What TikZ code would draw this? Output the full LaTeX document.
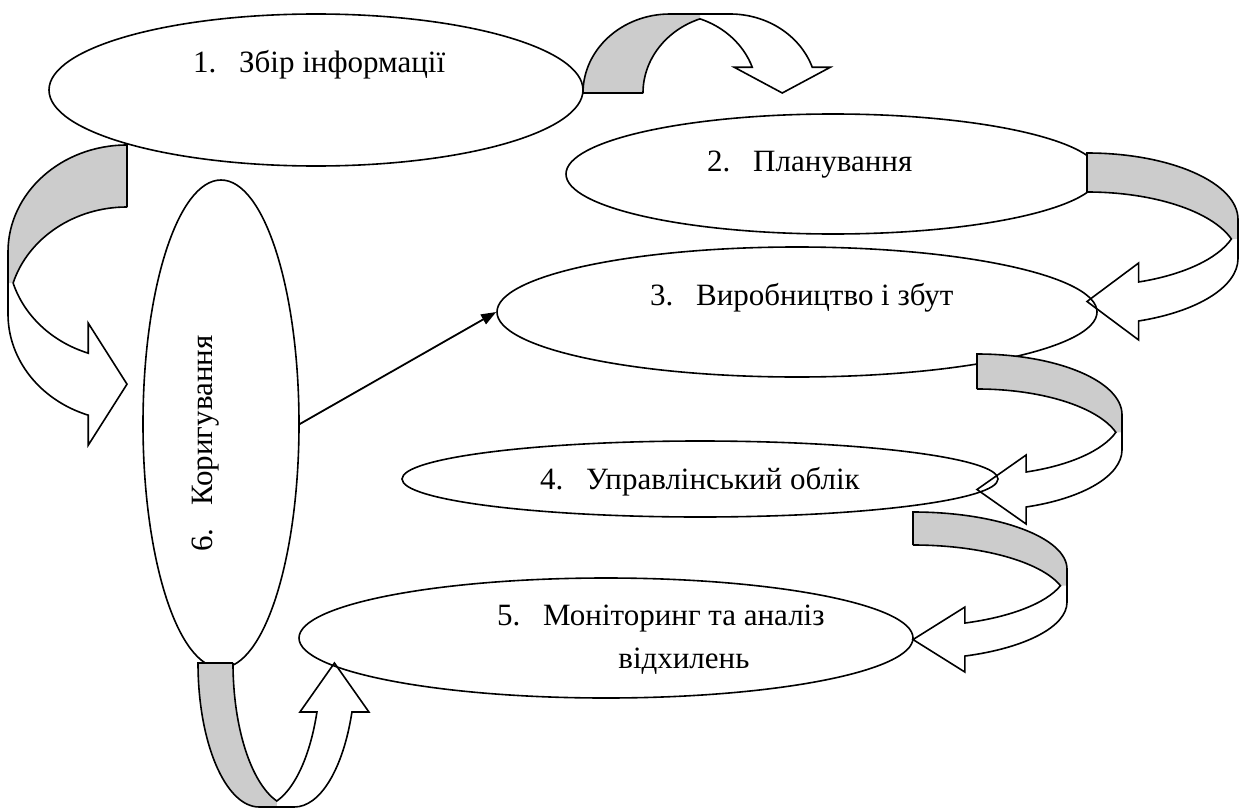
\documentclass[tikz,border=0pt]{standalone}
\usepackage{fontspec}
\setmainfont{Liberation Serif}
\newfontfamily\boxfont{LiberationSerif-Regular.ttf}
\usetikzlibrary{shapes.geometric,arrows.meta}

\definecolor{backgray}{RGB}{204,204,204}

\tikzset{
  oval/.style={ellipse, draw, line width=1.6pt, inner sep=0pt},
  lbl/.style={inner sep=0pt, anchor=base west, font=\boxfont\fontsize{31}{43}\selectfont},
}

% band arrow: #1,#2 radii, #3 band width, #4 head angle, #5 head overhang
\newcommand{\bentarrow}[5]{%
  \pgfmathsetmacro{\cwA}{#1}%
  \pgfmathsetmacro{\cwB}{#2}%
  \pgfmathsetmacro{\cwT}{#3}%
  \pgfmathsetmacro{\cwP}{#4}%
  \pgfmathsetmacro{\cwE}{#5}%
  \pgfmathsetmacro{\cwH}{\cwT/2}%
  \pgfmathsetmacro{\cwQ}{acos(\cwH/\cwA)}%
  \pgfmathsetmacro{\cwR}{180-\cwQ}%
  \pgfmathsetmacro{\cwI}{\cwB*sin(\cwQ)}%
  \pgfmathsetmacro{\cwX}{\cwA*cos(\cwP)}%
  \pgfmathsetmacro{\cwY}{\cwB*sin(\cwP)}%
  \fill[backgray] ({-\cwA},0) arc[start angle=180, end angle=90, x radius=\cwA pt, y radius=\cwB pt]
    -- (\cwH,\cwB) -- (\cwH,\cwI)
    arc[start angle=\cwR, end angle=180, x radius=\cwA pt, y radius=\cwB pt] -- cycle;
  \draw[line width=1.6pt, line join=miter]
    ({\cwT-\cwA},0) -- ({-\cwA},0)
    arc[start angle=180, end angle=90, x radius=\cwA pt, y radius=\cwB pt]
    -- (\cwT,\cwB)
    arc[start angle=90, end angle=\cwP, x radius=\cwA pt, y radius=\cwB pt]
    -- ({\cwX+\cwT+\cwE},\cwY) -- ({\cwX+\cwH},0) -- ({\cwX-\cwE},\cwY) -- (\cwX,\cwY)
    arc[start angle=\cwP, end angle=\cwQ, x radius=\cwA pt, y radius=\cwB pt]
    arc[start angle=\cwR, end angle=180, x radius=\cwA pt, y radius=\cwB pt] -- cycle;
}

\begin{document}
\begin{tikzpicture}[x=1pt, y=-1pt]
\useasboundingbox (0,0) rectangle (1239,808);

\node[oval, minimum width=534pt, minimum height=152pt] (e1) at (316,90) {};
\node[oval, minimum width=534pt, minimum height=120pt] (e2) at (833,174) {};
\node[oval, minimum width=600pt, minimum height=130pt] (e3) at (797,312) {};
\node[oval, minimum width=596pt, minimum height=76pt] (e4) at (700,479) {};
\node[oval, minimum width=614pt, minimum height=120pt] (e5) at (606,638) {};
\node[oval, minimum width=156pt, minimum height=488pt] (e6) at (221,424) {};

\node[lbl] (t1) at (193,73) {\makebox[46pt][l]{1.}Збір інформації};
\node[lbl] (t2) at (707,171) {\makebox[46pt][l]{2.}Планування};
\node[lbl] (t3) at (650,305) {\makebox[46pt][l]{3.}Виробництво і збут};
\node[lbl] (t4) at (540,489) {\makebox[46pt][l]{4.}Управлінський облік};
\node[lbl] (t5) at (497,625) {\makebox[46pt][l]{5.}\begin{tabular}[t]{@{}c@{}}Моніторинг та аналіз\\відхилень\end{tabular}};
\node[lbl, rotate=90] (t6) at (212,552) {\makebox[46pt][l]{6.}Коригування};

\draw[line width=1.8pt, -{Triangle[length=15pt, width=11pt]}] (e6.east) -- (e3.west);

\begin{scope}[shift={(670,93)}, x=1pt, y=1pt]
\bentarrow{87}{79}{60}{19}{18}
\end{scope}
\begin{scope}[shift={(127,252)}, x=1pt, y=1pt, xscale=-1, rotate=-90]
\bentarrow{107}{119}{62}{19}{30}
\end{scope}
\begin{scope}[shift={(1087,219.5)}, x=1pt, y=1pt, rotate=-90]
\bentarrow{66.5}{151}{39}{20}{19}
\end{scope}
\begin{scope}[shift={(977,414.8)}, x=1pt, y=1pt, rotate=-90]
\bentarrow{60.8}{145}{35}{19.8}{17}
\end{scope}
\begin{scope}[shift={(913,569.2)}, x=1pt, y=1pt, rotate=-90]
\bentarrow{57.2}{154}{33}{19.7}{16}
\end{scope}
\begin{scope}[shift={(259.3,663)}, x=1pt, y=1pt, yscale=-1]
\bentarrow{61.3}{144}{35}{19.9}{17}
\end{scope}
\end{tikzpicture}
\end{document}
